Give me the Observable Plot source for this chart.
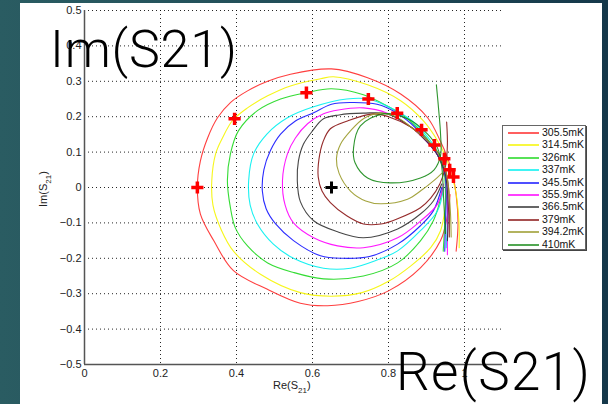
<!DOCTYPE html>
<html>
<head>
<meta charset="utf-8">
<script src="https://cdn.jsdelivr.net/npm/d3@7"></script>
<script src="https://cdn.jsdelivr.net/npm/@observablehq/plot@0.6"></script>
<style>
  html, body { margin: 0; padding: 0; }
  #wrap { position: relative; width: 608px; height: 404px; overflow: hidden;
          background: linear-gradient(to right, #2a5c62 0%, #1f4a56 60%, #15384a 100%); }
  #panel { position: absolute; left: 20px; top: 3px; width: 582px; height: 401px; background: #fff; }
  #chart { position: absolute; left: 0; top: 0; }
  #legend { position: absolute; left: 502px; top: 125px; width: 82px; height: 123px; background: #fff;
            border: 1px solid #666; box-shadow: 1px 1px 0 #444; font-family: "Liberation Sans", Arial, sans-serif;
            font-size: 10.5px; color: #111; }
  .row { position: absolute; left: 0; height: 12px; }
  .sw { position: absolute; left: 5px; width: 31px; height: 0; top: 6px; border-top: 2px solid; opacity: 0.75; }
  .lb { position: absolute; left: 39px; top: 0px; line-height: 12px; white-space: nowrap; }
  #overlay { position: absolute; left: 0; top: 0; pointer-events: none; }
</style>
</head>
<body>
<div id="wrap">
  <div id="panel"></div>
  <div id="chart"></div>
  <div id="legend"></div>
  <svg id="overlay" width="608" height="404"></svg>
</div>
<script>
// ---- data ----
const temps = ["305.5mK","314.5mK","326mK","337mK","345.5mK","355.9mK","366.5mK","379mK","394.2mK","410mK"];
const colors = ["#ff2a2a","#f5f500","#1fd81f","#00f0f0","#1414ff","#ff00ff","#333333","#8a1414","#9a9a2a","#178a17"];

const s305 = [[0.978,-0.18],[0.983,-0.10],[0.978,-0.02],[0.968,0.04],[0.955,0.085],[0.937,0.13],[0.903,0.197],[0.832,0.264],[0.745,0.31],[0.65,0.335],[0.542,0.32],[0.482,0.30],[0.429,0.273],[0.384,0.24],[0.35,0.197],[0.324,0.14],[0.305,0.075],[0.297,0.0],[0.305,-0.075],[0.34,-0.15],[0.392,-0.235],[0.48,-0.287],[0.568,-0.327],[0.64,-0.334],[0.72,-0.322],[0.80,-0.292],[0.884,-0.227],[0.937,-0.15],[0.955,-0.08],[0.962,-0.02]];
const s314 = [[0.986,-0.17],[0.985,-0.09],[0.975,0.0],[0.962,0.045],[0.955,0.075],[0.929,0.132],[0.892,0.188],[0.832,0.245],[0.745,0.29],[0.655,0.313],[0.621,0.307],[0.542,0.287],[0.482,0.259],[0.429,0.225],[0.39,0.19],[0.363,0.14],[0.345,0.095],[0.335,0.02],[0.338,-0.05],[0.36,-0.12],[0.392,-0.18],[0.463,-0.245],[0.568,-0.297],[0.65,-0.307],[0.73,-0.297],[0.80,-0.265],[0.858,-0.222],[0.911,-0.17],[0.937,-0.122],[0.95,-0.05],[0.955,0.0]];
const s326 = [[0.944,-0.18],[0.948,-0.10],[0.95,-0.02],[0.946,0.045],[0.93,0.09],[0.90,0.14],[0.855,0.19],[0.797,0.23],[0.734,0.262],[0.65,0.279],[0.584,0.268],[0.516,0.25],[0.455,0.217],[0.405,0.16],[0.384,0.095],[0.376,0.02],[0.384,-0.057],[0.397,-0.114],[0.429,-0.165],[0.482,-0.213],[0.55,-0.24],[0.629,-0.258],[0.734,-0.25],[0.824,-0.213],[0.884,-0.151],[0.918,-0.094],[0.935,-0.04],[0.942,0.0]];
const s337 = [[0.952,-0.17],[0.955,-0.09],[0.955,-0.01],[0.95,0.045],[0.935,0.09],[0.905,0.14],[0.86,0.19],[0.80,0.228],[0.747,0.25],[0.69,0.25],[0.603,0.228],[0.534,0.197],[0.48,0.151],[0.445,0.095],[0.432,0.02],[0.436,-0.05],[0.455,-0.103],[0.497,-0.16],[0.55,-0.2],[0.629,-0.228],[0.70,-0.228],[0.77,-0.205],[0.824,-0.179],[0.884,-0.122],[0.929,-0.066],[0.945,0.0]];
const s345 = [[0.948,-0.18],[0.95,-0.10],[0.952,-0.02],[0.948,0.04],[0.93,0.09],[0.90,0.135],[0.86,0.18],[0.823,0.21],[0.77,0.235],[0.70,0.24],[0.65,0.235],[0.603,0.211],[0.555,0.188],[0.516,0.151],[0.489,0.104],[0.472,0.05],[0.468,-0.01],[0.478,-0.06],[0.503,-0.103],[0.55,-0.15],[0.621,-0.193],[0.68,-0.2],[0.75,-0.195],[0.824,-0.16],[0.884,-0.108],[0.918,-0.066],[0.94,0.0]];
const s355 = [[0.955,-0.19],[0.955,-0.10],[0.955,-0.02],[0.95,0.04],[0.93,0.09],[0.90,0.13],[0.86,0.17],[0.797,0.21],[0.734,0.225],[0.668,0.219],[0.629,0.208],[0.587,0.18],[0.555,0.14],[0.534,0.095],[0.521,0.02],[0.528,-0.05],[0.55,-0.1],[0.603,-0.142],[0.666,-0.165],[0.734,-0.17],[0.824,-0.142],[0.884,-0.095],[0.929,-0.047],[0.945,0.01]];
const s366 = [[0.955,-0.15],[0.957,-0.08],[0.955,-0.01],[0.948,0.045],[0.93,0.09],[0.90,0.13],[0.86,0.17],[0.797,0.208],[0.734,0.21],[0.67,0.205],[0.629,0.194],[0.6,0.16],[0.576,0.122],[0.563,0.075],[0.56,0.02],[0.568,-0.04],[0.603,-0.094],[0.666,-0.125],[0.734,-0.142],[0.824,-0.117],[0.884,-0.075],[0.918,-0.038],[0.94,0.01]];
const s379 = [[0.96,-0.14],[0.96,-0.07],[0.958,0.0],[0.95,0.05],[0.935,0.09],[0.905,0.13],[0.86,0.17],[0.80,0.2],[0.76,0.208],[0.692,0.188],[0.647,0.166],[0.628,0.13],[0.617,0.08],[0.615,0.03],[0.625,-0.01],[0.647,-0.043],[0.69,-0.08],[0.734,-0.103],[0.78,-0.103],[0.824,-0.088],[0.884,-0.057],[0.911,-0.03],[0.935,0.01],[0.95,0.06],[0.955,0.12],[0.953,0.185]];
const s394 = [[0.965,-0.14],[0.963,-0.07],[0.958,0.0],[0.95,0.05],[0.935,0.09],[0.905,0.13],[0.86,0.17],[0.82,0.2],[0.779,0.21],[0.735,0.195],[0.70,0.16],[0.674,0.123],[0.663,0.081],[0.67,0.04],[0.70,-0.01],[0.74,-0.038],[0.779,-0.046],[0.85,-0.033],[0.884,-0.01],[0.92,0.02],[0.94,0.04]];
const s410 = [[0.926,0.29],[0.932,0.22],[0.937,0.15],[0.937,0.09],[0.92,0.05],[0.884,0.027],[0.805,0.013],[0.745,0.027],[0.712,0.07],[0.708,0.112],[0.726,0.174],[0.787,0.208],[0.85,0.194],[0.903,0.151],[0.929,0.112],[0.94,0.06],[0.945,-0.03],[0.95,-0.13]];
const series = [s305, s314, s326, s337, s345, s355, s366, s379, s394, s410];

const resX = [0.297,0.395,0.584,0.747,0.823,0.887,0.921,0.947,0.961,0.971];
const resY = [0.0,0.194,0.268,0.25,0.21,0.163,0.12,0.081,0.05,0.03];
const centerX = [0.65];
const centerY = [0.0];

const xTicks = [0, 0.2, 0.4, 0.6, 0.8, 1];
const yTicks = [-0.5, -0.4, -0.3, -0.2, -0.1, 0, 0.1, 0.2, 0.3, 0.4, 0.5];

// ---- build tables ----
const rows = temps.flatMap((t, i) => series[i].map(([x, y], j) => ({t, x, y, j})));
const res = resX.map((x, i) => ({x, y: resY[i]}));
const ctr = centerX.map((x, i) => ({x, y: centerY[i]}));
const fmt = d => d < 0 ? "\u2212" + Math.abs(d) : String(d);

const chart = Plot.plot({
  width: 608, height: 404,
  marginLeft: 84, marginRight: 106, marginTop: 10, marginBottom: 40,
  style: {background: "transparent", fontFamily: "'Liberation Sans', Arial, sans-serif", fontSize: "11px", color: "#222"},
  x: {domain: [0, 1.1], ticks: xTicks, tickFormat: fmt, tickSize: 0, tickPadding: 5, label: null},
  y: {domain: [-0.5, 0.5], ticks: yTicks, tickFormat: fmt, tickSize: 0, tickPadding: 3, label: null},
  color: {domain: temps, range: colors},
  marks: [
    Plot.ruleX(xTicks.filter(d => d > 0), {stroke: "#000", strokeWidth: 1, strokeDasharray: "1,3", strokeOpacity: 0.85}),
    Plot.ruleY(yTicks.filter(d => d > -0.5), {stroke: "#000", strokeWidth: 1, strokeDasharray: "1,3", strokeOpacity: 0.85}),
    Plot.line(rows, {x: "x", y: "y", z: "t", stroke: "t", strokeWidth: 1.1, strokeOpacity: 0.9, curve: "catmull-rom"}),
    Plot.dot(res, {x: "x", y: "y", symbol: "plus", r: 4, stroke: "#ff0000", strokeWidth: 3.5}),
    Plot.dot(ctr, {x: "x", y: "y", symbol: "plus", r: 4, stroke: "#000", strokeWidth: 3}),
    Plot.ruleX([0], {stroke: "#555", strokeWidth: 1.5}),
    Plot.ruleY([-0.5], {stroke: "#555", strokeWidth: 1.5})
  ]
});
document.getElementById("chart").appendChild(chart);

// ---- legend ----
const leg = document.getElementById("legend");
temps.forEach((t, i) => {
  const r = document.createElement("div");
  r.className = "row";
  r.style.top = (i * 12.4) + "px";
  r.style.width = "82px";
  r.innerHTML = `<div class="sw" style="border-color:${colors[i]}"></div><div class="lb">${t}</div>`;
  leg.appendChild(r);
});

// ---- axis labels and big overlay titles ----
const ov = d3.select("#overlay");
const xl = ov.append("text").attr("x", 273).attr("y", 389)
  .attr("font-family", "'Liberation Sans', Arial, sans-serif").attr("font-size", 11).attr("fill", "#222");
xl.append("tspan").text("Re(S");
xl.append("tspan").attr("font-size", 8).attr("dy", 4).text("21");
xl.append("tspan").attr("dy", -4).text(")");

const yl = ov.append("text").attr("transform", "translate(47,207) rotate(-90)")
  .attr("font-family", "'Liberation Sans', Arial, sans-serif").attr("font-size", 11).attr("fill", "#222");
yl.append("tspan").text("Im(S");
yl.append("tspan").attr("font-size", 8).attr("dy", 4).text("21");
yl.append("tspan").attr("dy", -4).text(")");

ov.append("text").attr("x", 50).attr("y", 67)
  .attr("font-family", "Roboto, 'Liberation Sans', sans-serif").attr("font-weight", 300).attr("font-size", 52)
  .attr("letter-spacing", 0.8).attr("fill", "#000")
  .text("Im(S21)");
ov.append("text").attr("x", 396).attr("y", 390)
  .attr("font-family", "Roboto, 'Liberation Sans', sans-serif").attr("font-weight", 300).attr("font-size", 53)
  .attr("letter-spacing", 1.4).attr("fill", "#000")
  .text("Re(S21)");
</script>
</body>
</html>
